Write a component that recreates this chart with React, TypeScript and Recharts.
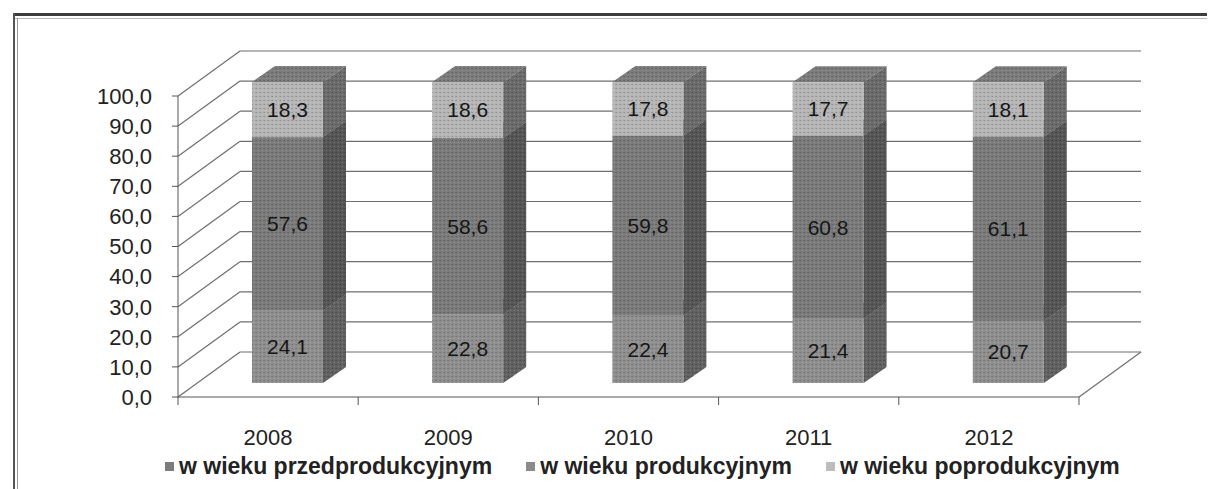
import React from 'react';
import { BarChart, Bar, XAxis, YAxis, CartesianGrid, Legend, LabelList } from 'recharts';

const years = ['2008', '2009', '2010', '2011', '2012'];
const przedprodukcyjnym = [24.1, 22.8, 22.4, 21.4, 20.7];
const produkcyjnym = [57.6, 58.6, 59.8, 60.8, 61.1];
const poprodukcyjnym = [18.3, 18.6, 17.8, 17.7, 18.1];
const seriesNames = ['w wieku przedprodukcyjnym', 'w wieku produkcyjnym', 'w wieku poprodukcyjnym'];
const yTicks = [0, 10, 20, 30, 40, 50, 60, 70, 80, 90, 100];

const data = years.map((year, i) => ({
  year,
  pre: przedprodukcyjnym[i],
  prod: produkcyjnym[i],
  post: poprodukcyjnym[i],
}));

const FONT = '"Liberation Sans", Arial, sans-serif';
const WALL_DX = 62, WALL_DY = 45;
const BAR_DX = 19, BAR_DY = 14;
const SIDE_DX = 23, SIDE_DY = 16;
const AXIS_STROKE = '#555';

const COLORS = {
  pre: { front: '#8f8f8f', side: '#616161', top: '#7a7a7a', legend: '#7c7c7c' },
  prod: { front: '#7b7b7b', side: '#565656', top: '#6e6e6e', legend: '#8a8a8a' },
  post: { front: '#b6b6b6', side: '#6c6c6c', top: '#7c7c7c', legend: '#bdbdbd' },
};

const fmt = (v: number) => v.toFixed(1).replace('.', ',');

const Dots = () => (
  <defs>
    <pattern id="halftone" width="4" height="4" patternUnits="userSpaceOnUse">
      <rect x="0" y="0" width="1" height="1" fill="#000" fillOpacity="0.22" />
      <rect x="2" y="2" width="1" height="1" fill="#fff" fillOpacity="0.18" />
      <rect x="3" y="0" width="1" height="1" fill="#000" fillOpacity="0.12" />
    </pattern>
  </defs>
);

const makeShape = (c: { front: string; side: string; top: string }) => (props: any) => {
  const { x, y, width, height } = props;
  const fx = x + BAR_DX;
  const fy = y - BAR_DY;
  const topPts = `${fx},${fy} ${fx + SIDE_DX},${fy - SIDE_DY} ${fx + width + SIDE_DX},${fy - SIDE_DY} ${fx + width},${fy}`;
  const sidePts = `${fx + width},${fy} ${fx + width + SIDE_DX},${fy - SIDE_DY} ${fx + width + SIDE_DX},${fy + height - SIDE_DY} ${fx + width},${fy + height}`;
  return (
    <g>
      <Dots />
      <polygon points={topPts} fill={c.top} />
      <polygon points={topPts} fill="url(#halftone)" />
      <polygon points={sidePts} fill={c.side} />
      <polygon points={sidePts} fill="url(#halftone)" />
      <rect x={fx} y={fy} width={width} height={height} fill={c.front} />
      <rect x={fx} y={fy} width={width} height={height} fill="url(#halftone)" />
    </g>
  );
};

const renderLabel = (props: any) => {
  const { x, y, width, height, value } = props;
  return (
    <text
      x={x + width / 2 + BAR_DX}
      y={y + height / 2 - BAR_DY}
      textAnchor="middle"
      dominantBaseline="central"
      fontSize={21}
      fill="#151515"
      fontFamily={FONT}
    >
      {fmt(Number(value))}
    </text>
  );
};

const renderGridLine = (props: any) => {
  const { x1, y1, x2, y, height, index } = props;
  const isFloor = Math.abs(y1 - (y + height)) < 0.5;
  const stroke = '#6f6f6f';
  return (
    <g key={`g-${index}`}>
      <line x1={x1} y1={y1} x2={x1 + WALL_DX} y2={y1 - WALL_DY} stroke={stroke} strokeWidth={1.2} />
      <line x1={x1 + WALL_DX} y1={y1 - WALL_DY} x2={x2 + WALL_DX} y2={y1 - WALL_DY} stroke={stroke} strokeWidth={1.2} />
      {isFloor && <line x1={x2} y1={y1} x2={x2 + WALL_DX} y2={y1 - WALL_DY} stroke={stroke} strokeWidth={1.2} />}
    </g>
  );
};

const renderYearTick = (props: any) => {
  const { x, y, payload, index, visibleTicksCount } = props;
  const half = Number(payload?.offset) || 0;
  const isLast = index === visibleTicksCount - 1;
  return (
    <g>
      <line x1={x - half} y1={y} x2={x - half} y2={y + 8} stroke={AXIS_STROKE} />
      {isLast && <line x1={x + half} y1={y} x2={x + half} y2={y + 8} stroke={AXIS_STROKE} />}
      <text x={x} y={y + 40} textAnchor="middle" dominantBaseline="central" fontSize={22} fill="#222" fontFamily={FONT}>
        {payload.value}
      </text>
    </g>
  );
};

const legendKeys: Array<keyof typeof COLORS> = ['pre', 'prod', 'post'];

const renderLegend = () => (
  <div style={{ display: 'flex', height: 30, alignItems: 'center', fontFamily: FONT, fontWeight: 'bold', fontSize: 23, color: '#222', whiteSpace: 'nowrap' }}>
    {legendKeys.map((k, i) => (
      <div key={k} style={{ display: 'flex', alignItems: 'center', marginRight: 34 }}>
        <span style={{ display: 'inline-block', width: 9, height: 9, background: COLORS[k].legend, marginRight: 5 }} />
        <span>{seriesNames[i]}</span>
      </div>
    ))}
  </div>
);

export default function App() {
  return (
    <div style={{ position: 'relative', width: 1199, height: 481, background: '#fff', overflow: 'hidden' }}>
      <div style={{ position: 'absolute', left: 5, top: 5, width: 1194, height: 3, background: '#3c3c3c' }} />
      <div style={{ position: 'absolute', left: 5, top: 10, width: 1194, height: 1, background: '#b5b5b5' }} />
      <div style={{ position: 'absolute', left: 5, top: 5, width: 2, height: 476, background: '#555' }} />
      <div style={{ position: 'absolute', left: 9, top: 10, width: 1, height: 471, background: '#9a9a9a' }} />
      <div style={{ position: 'absolute', left: 0, top: 0 }}>
        <BarChart width={1199} height={481} data={data} margin={{ top: 88, right: 128, bottom: 8, left: 90 }}>
          <CartesianGrid vertical={false} horizontal={renderGridLine} />
          <XAxis
            dataKey="year"
            height={54}
            axisLine={{ stroke: AXIS_STROKE }}
            tickLine={false}
            tickSize={0}
            tickMargin={0}
            tick={renderYearTick}
            interval={0}
          />
          <YAxis
            domain={[0, 100]}
            ticks={yTicks}
            interval={0}
            width={80}
            tickSize={6}
            tickMargin={20}
            tickFormatter={fmt}
            tick={{ fontSize: 22, fill: '#222', fontFamily: FONT }}
            axisLine={{ stroke: AXIS_STROKE }}
            tickLine={{ stroke: AXIS_STROKE }}
          />
          <Legend verticalAlign="bottom" content={renderLegend} wrapperStyle={{ left: 157, width: 1040 }} />
          <Bar dataKey="pre" stackId="s" barSize={71} isAnimationActive={false} shape={makeShape(COLORS.pre)}>
            <LabelList dataKey="pre" content={renderLabel} />
          </Bar>
          <Bar dataKey="prod" stackId="s" barSize={71} isAnimationActive={false} shape={makeShape(COLORS.prod)}>
            <LabelList dataKey="prod" content={renderLabel} />
          </Bar>
          <Bar dataKey="post" stackId="s" barSize={71} isAnimationActive={false} shape={makeShape(COLORS.post)}>
            <LabelList dataKey="post" content={renderLabel} />
          </Bar>
        </BarChart>
      </div>
    </div>
  );
}
